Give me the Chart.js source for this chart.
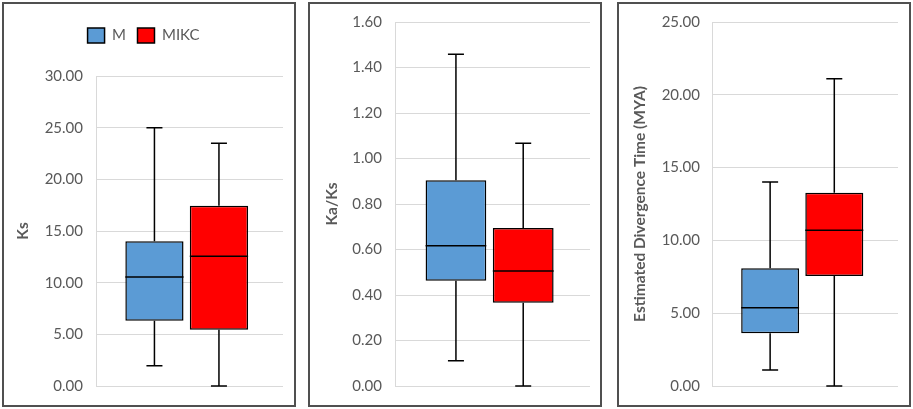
<!DOCTYPE html>
<html>
<head>
<meta charset="utf-8">
<script src="https://cdn.jsdelivr.net/npm/chart.js@4.4.0/dist/chart.umd.min.js"></script>
<style>
  body { margin: 0; background: #fff; width: 913px; height: 409px; position: relative; overflow: hidden; }
  .panel { position: absolute; top: 2px; width: 290px; height: 401px; border: 2px solid #505050; }
  canvas { display: block; }
</style>
</head>
<body>
<div class="panel" style="left:2px"><canvas id="ksChart" width="290" height="401"></canvas></div>
<div class="panel" style="left:308px"><canvas id="kaksChart" width="290" height="401"></canvas></div>
<div class="panel" style="left:617px"><canvas id="timeChart" width="290" height="401"></canvas></div>
<script>
// groups and five-number summaries: min, q1, median, q3, max
const groups = ['M', 'MIKC'];
const ksM = [1.97, 6.32, 10.55, 14.0, 25.0];
const ksMIKC = [0, 5.45, 12.55, 17.45, 23.5];
const kaksM = [0.111, 0.463, 0.617, 0.904, 1.458];
const kaksMIKC = [0, 0.366, 0.505, 0.695, 1.067];
const timeM = [1.10, 3.62, 5.38, 8.08, 14.01];
const timeMIKC = [0, 7.55, 10.69, 13.28, 21.1];

// y axes: title, max, step
const axisTitles = ['Ks', 'Ka/Ks', 'Estimated Divergence Time (MYA)'];
const axisMax = [30, 1.6, 25];
const axisStep = [5, 0.2, 5];

const colors = ['#5B9BD5', '#FF0000'];
// Excel puts the pair a bit left of centre, so the two series get different slot sizes
const catPct = [0.75, 0.63];
const barPct = [0.83, 0.99];
const grey = '#595959';

Chart.defaults.font.family = 'Lato, "Open Sans", sans-serif';
Chart.defaults.animation = false;

// whiskers, caps and median line on top of the floating bars
const boxWhiskers = {
    id: 'boxWhiskers',
    afterDatasetsDraw(chart) {
        const ctx = chart.ctx;
        const y = chart.scales.y;
        chart.data.datasets.forEach((ds, i) => {
            const bar = chart.getDatasetMeta(i).data[0];
            const s = ds.stats;
            const half = bar.width / 2;
            const cap = 8;
            ctx.save();
            ctx.strokeStyle = '#000';
            ctx.lineWidth = 1.5;
            ctx.beginPath();
            ctx.moveTo(bar.x, y.getPixelForValue(s[3]));
            ctx.lineTo(bar.x, y.getPixelForValue(s[4]));
            ctx.moveTo(bar.x, y.getPixelForValue(s[1]));
            ctx.lineTo(bar.x, y.getPixelForValue(s[0]));
            ctx.moveTo(bar.x - cap, y.getPixelForValue(s[4]));
            ctx.lineTo(bar.x + cap, y.getPixelForValue(s[4]));
            ctx.moveTo(bar.x - cap, y.getPixelForValue(s[0]));
            ctx.lineTo(bar.x + cap, y.getPixelForValue(s[0]));
            ctx.moveTo(bar.x - half, y.getPixelForValue(s[2]));
            ctx.lineTo(bar.x + half, y.getPixelForValue(s[2]));
            ctx.stroke();
            ctx.restore();
        });
    }
};

function makeBoxChart(id, n, statsM, statsMIKC, cfg) {
    const series = [statsM, statsMIKC];
    return new Chart(document.getElementById(id), {
        type: 'bar',
        data: {
            labels: [''],
            datasets: groups.map((g, i) => ({
                label: g,
                data: [[series[i][1], series[i][3]]],
                stats: series[i],
                backgroundColor: colors[i],
                borderColor: '#000',
                borderWidth: 1.5,
                borderSkipped: false,
                categoryPercentage: catPct[i],
                barPercentage: barPct[i]
            }))
        },
        options: {
            responsive: false,
            layout: { padding: cfg.padding },
            scales: {
                x: { display: false },
                y: {
                    min: 0,
                    max: axisMax[n],
                    afterFit: scale => {
                        scale.width = cfg.yWidth;
                        scale.paddingTop = 0;
                        scale.paddingBottom = 0;
                    },
                    ticks: {
                        stepSize: axisStep[n],
                        padding: cfg.tickPad,
                        color: grey,
                        font: { size: 15 },
                        callback: v => v.toFixed(2)
                    },
                    grid: { color: '#d9d9d9', drawTicks: false },
                    border: { display: true, color: '#d9d9d9' },
                    title: {
                        display: true,
                        text: axisTitles[n],
                        color: grey,
                        font: { size: 15.5, weight: 'bold' },
                        padding: { top: cfg.titlePad, bottom: 0 }
                    }
                }
            },
            plugins: {
                tooltip: { enabled: false },
                legend: {
                    display: cfg.legend,
                    position: 'top',
                    labels: {
                        boxWidth: 17,
                        boxHeight: 15,
                        padding: 11.5,
                        color: grey,
                        font: { size: 15 }
                    }
                },
                // empty title used as a spacer between legend and plot
                title: {
                    display: cfg.legend,
                    text: '',
                    weight: 500,
                    font: { size: 10, lineHeight: 1 },
                    padding: { top: 13, bottom: 0 }
                }
            }
        },
        plugins: [boxWhiskers]
    });
}

makeBoxChart('ksChart', 0, ksM, ksMIKC,
    { legend: true, yWidth: 92, tickPad: 13, titlePad: 9.7, padding: { top: 12.5, bottom: 19, right: 11, left: 0 } });
makeBoxChart('kaksChart', 1, kaksM, kaksMIKC,
    { legend: false, yWidth: 85, tickPad: 13, titlePad: 12.7, padding: { top: 18, bottom: 19, right: 10, left: 0 } });
makeBoxChart('timeChart', 2, timeM, timeMIKC,
    { legend: false, yWidth: 93, tickPad: 12, titlePad: 11.7, padding: { top: 18, bottom: 19, right: 11, left: 0 } });
</script>
</body>
</html>
